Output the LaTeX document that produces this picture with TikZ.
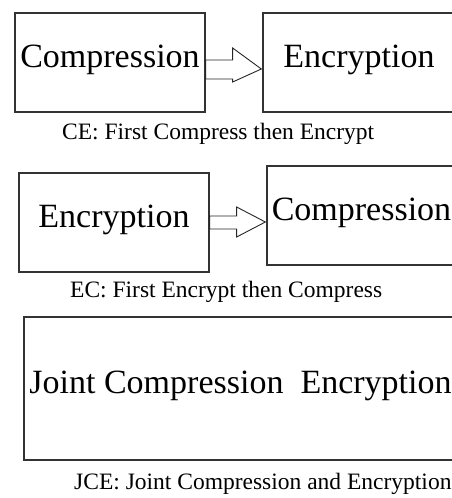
\documentclass[tikz,border=0pt]{standalone}
\usepackage{fontspec}
\setmainfont{Liberation Serif}
\usetikzlibrary{calc}
\begin{document}
\begin{tikzpicture}[x=1pt,y=-1pt,
  box/.style={draw=black!80, line width=1.3pt, inner sep=0pt, text depth=13pt,
    font=\fontsize{34}{40}\selectfont, text=black},
  captext/.style={inner sep=0pt, anchor=west, font=\fontsize{23.5}{28}\selectfont, text=black},
  blk/.style={draw=black!85, line width=0.9pt, fill=white, line join=miter}]
\useasboundingbox (0,0) rectangle (452,498);
% row 1
\node[box, minimum width=190pt, minimum height=99pt] (c1) at (110,62.5) {Compression};
\node[box, minimum width=192pt, minimum height=99pt] (e1) at (359,62.5) {Encryption};
\draw[blk] ($(c1.east)+(0,-2.5)$) -- ++(27,0) -- ++(0,-12) -- ($(e1.west)+(-1,6.5)$)
  -- ($(c1.east)+(27,19.5)$) -- ++(0,-3) -- ($(c1.east)+(0,16.5)$) -- cycle;
\node[captext] (t1) at (62,133.5) {CE: First Compress then Encrypt};
% row 2
\node[box, minimum width=190pt, minimum height=99pt] (e2) at (114,222.5) {Encryption};
\node[box, minimum width=189pt, minimum height=99pt] (c2) at (361.5,215.5) {Compression};
\draw[blk] ($(e2.east)+(0,-6.5)$) -- ++(27,0) -- ++(0,-9) -- ($(c2.west)+(-1,6.5)$)
  -- ($(e2.east)+(27,14.5)$) -- ++(0,-8) -- ($(e2.east)+(0,6.5)$) -- cycle;
\node[captext] (t2) at (70,291.5) {EC: First Encrypt then Compress};
% row 3
\node[box, minimum width=433pt, minimum height=143pt] (j) at (240.5,388.5) {Joint Compression\ \ Encryption};
\node[captext] (t3) at (74,483.5) {JCE: Joint Compression and Encryption};
\end{tikzpicture}
\end{document}
